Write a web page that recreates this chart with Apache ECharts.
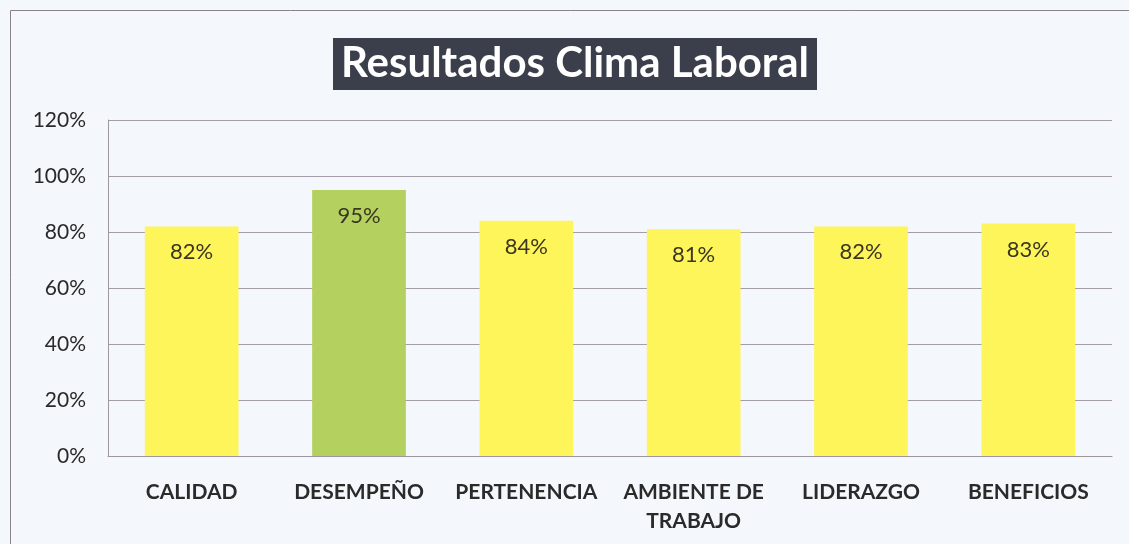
<!DOCTYPE html>
<html>
<head>
<meta charset="utf-8">
<script src="https://cdn.jsdelivr.net/npm/echarts@6/dist/echarts.min.js"></script>
<style>
html,body{margin:0;padding:0;background:#f4f7fb;}
#c{width:1129px;height:544px;}
</style>
</head>
<body>
<div id="c"></div>
<script>
const categories = ['CALIDAD', 'DESEMPEÑO', 'PERTENENCIA', 'AMBIENTE DE\nTRABAJO', 'LIDERAZGO', 'BENEFICIOS'];
const values = [82, 95, 84, 81, 82, 83];
const barColors = ['#fef55a', '#b4d160', '#fef55a', '#fef55a', '#fef55a', '#fef55a'];
const yTicks = [0, 20, 40, 60, 80, 100, 120];

const chart = echarts.init(document.getElementById('c'));
chart.setOption({
  backgroundColor: '#f4f7fb',
  animation: false,
  title: {
    text: 'Resultados Clima Laboral',
    left: 333,
    top: 38,
    padding: [4, 8, 6, 8],
    backgroundColor: '#3b3f4b',
    textStyle: { color: '#ffffff', fontSize: 42, fontWeight: 'bold', fontFamily: 'Lato' }
  },
  graphic: [{
    type: 'rect', silent: true,
    shape: { x: 10.5, y: 10.5, width: 1130, height: 540 },
    style: { fill: 'none', stroke: '#8a8288', lineWidth: 1 }
  }],
  grid: { left: 108, right: 17, top: 120, bottom: 88 },
  xAxis: {
    type: 'category',
    data: categories,
    axisLine: { show: true, lineStyle: { color: '#9c96a0' } },
    axisTick: { show: false },
    axisLabel: {
      margin: 22, color: '#2a2a2a', fontSize: 21, fontWeight: 'bold', fontFamily: 'Lato', lineHeight: 29, interval: 0
    }
  },
  yAxis: {
    type: 'value', min: 0, max: 120, interval: 20,
    axisLine: { show: true, lineStyle: { color: '#9c96a0' } },
    axisTick: { show: false },
    splitLine: { show: true, lineStyle: { color: '#a49ca8', width: 1 } },
    axisLabel: {
      margin: 22, color: '#2a2a2a', fontSize: 21, fontFamily: 'Lato',
      formatter: v => yTicks.includes(v) ? v + '%' : ''
    }
  },
  series: [{
    type: 'bar',
    barWidth: '56%',
    data: values.map((v, i) => ({ value: v, itemStyle: { color: barColors[i] } })),
    label: {
      show: true, position: 'insideTop', distance: 15,
      formatter: p => p.value + '%',
      color: '#3a3620', fontSize: 22, fontFamily: 'Lato'
    }
  }]
});
</script>
</body>
</html>
